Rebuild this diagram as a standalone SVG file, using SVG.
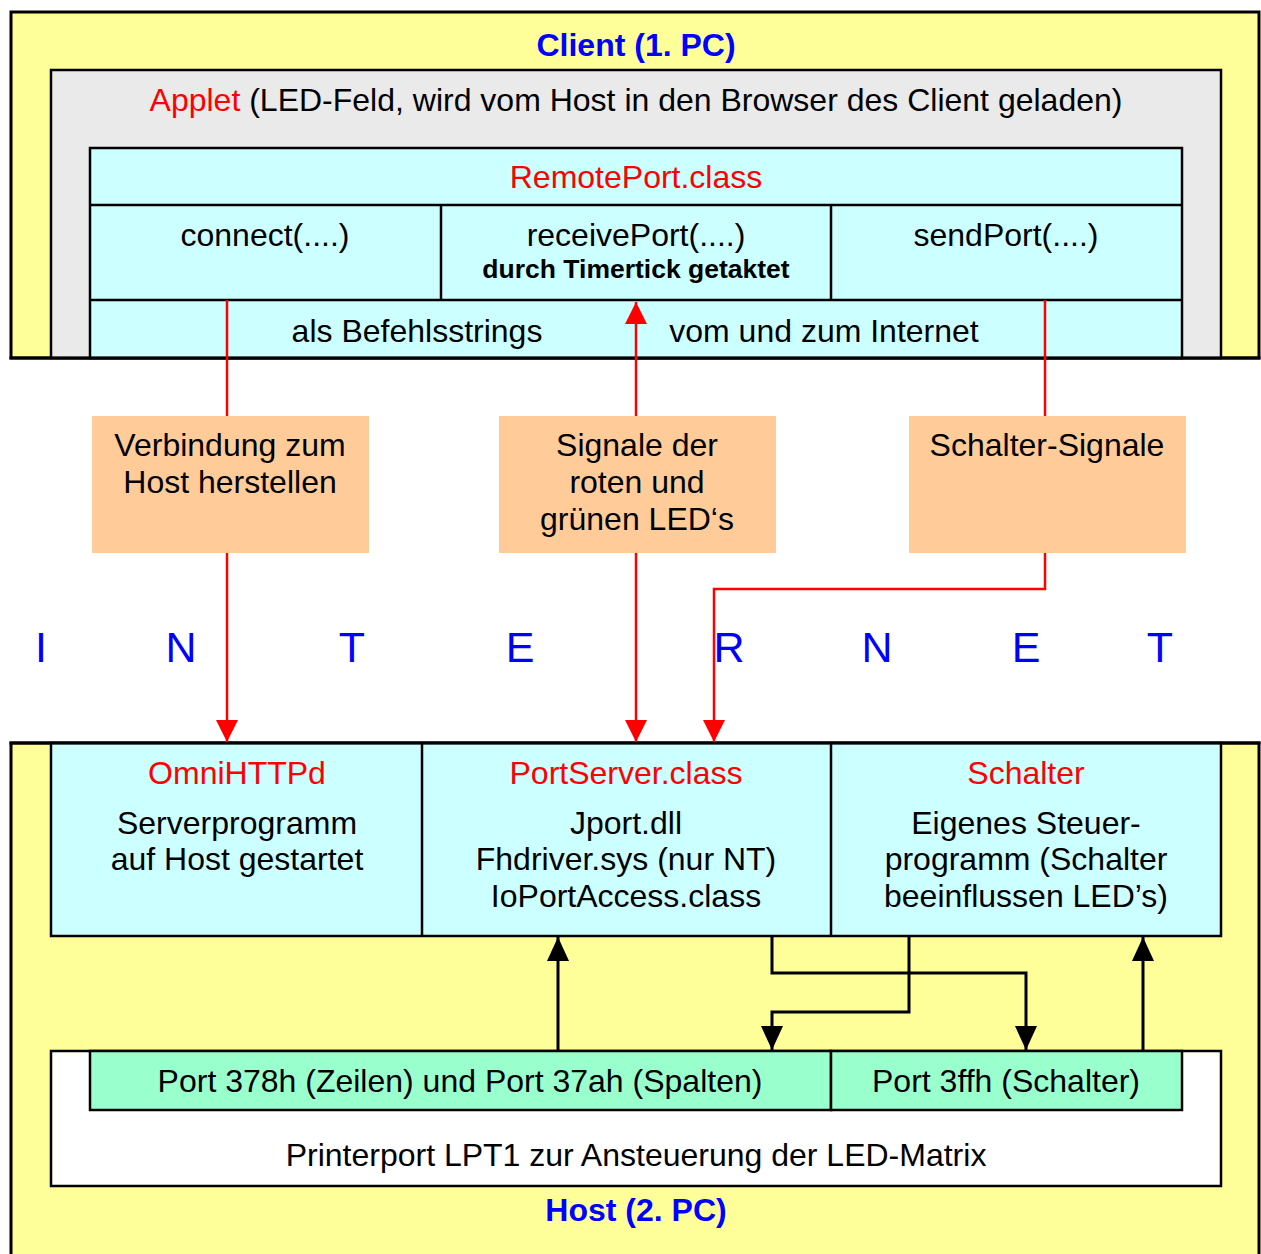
<svg xmlns="http://www.w3.org/2000/svg" width="1261" height="1254" viewBox="0 0 1261 1254">
<style>
text{font-family:"Liberation Sans",Arial,sans-serif;font-size:32px;fill:#000;text-anchor:middle}
.red{fill:#FF0000}
.blue{fill:#0000FF}
.title{font-weight:bold;fill:#0000FF}
.small{font-weight:bold;font-size:26.5px}
.inet{font-size:43px;fill:#0000FF}
.yel{fill:#FFFF99;stroke:#000;stroke-width:3}
.box{stroke:#000;stroke-width:2.5}
.cyan{fill:#CCFFFF}
.gray{fill:#EAEAEA}
.org{fill:#FFCC99}
.grn{fill:#99FFCC}
.wht{fill:#FFFFFF}
.ln{stroke:#000;stroke-width:2.5;fill:none}
.rl{stroke:#FF0000;stroke-width:2.5;fill:none}
.bl{stroke:#000;stroke-width:3;fill:none}
</style>
<defs>
<marker id="ar" markerUnits="userSpaceOnUse" viewBox="0 0 22 22" refX="22" refY="11" markerWidth="22" markerHeight="22" orient="auto"><path d="M0,0 L22,11 L0,22 Z" fill="#FF0000"/></marker>
<marker id="ab" markerUnits="userSpaceOnUse" viewBox="0 0 24 22" refX="24" refY="11" markerWidth="24" markerHeight="22" orient="auto"><path d="M0,0 L24,11 L0,22 Z" fill="#000"/></marker>
</defs>
<rect width="1261" height="1254" fill="#FFFFFF"/>

<g id="client">
<rect class="yel" x="11" y="12" width="1248" height="346"/>
<text class="title" x="636" y="56">Client (1. PC)</text>
</g>
<g id="applet">
<rect class="box gray" x="51" y="70" width="1170" height="288"/>
<text x="636" y="111"><tspan class="red">Applet</tspan> (LED-Feld, wird vom Host in den Browser des Client geladen)</text>
</g>
<g id="remoteport">
<rect class="box cyan" x="90" y="148" width="1092" height="210"/>
<line class="ln" x1="90" y1="205" x2="1182" y2="205"/>
<line class="ln" x1="90" y1="300" x2="1182" y2="300"/>
<line class="ln" x1="441" y1="205" x2="441" y2="300"/>
<line class="ln" x1="831" y1="205" x2="831" y2="300"/>
<text class="red" x="636" y="188">RemotePort.class</text>
<text x="265" y="246">connect(....)</text>
<text x="636" y="246">receivePort(....)</text>
<text class="small" x="636" y="278">durch Timertick getaktet</text>
<text x="1006" y="246">sendPort(....)</text>
<text x="417" y="342">als Befehlsstrings</text>
<text x="824" y="342">vom und zum Internet</text>
</g>
<rect x="9.5" y="356.5" width="1251" height="3" fill="#000"/>

<g id="label-verbindung">
<rect class="org" x="92" y="416" width="277" height="137"/>
<text x="230" y="456">Verbindung zum</text>
<text x="230" y="493">Host herstellen</text>
</g>
<g id="label-signale">
<rect class="org" x="499" y="416" width="277" height="137"/>
<text x="637" y="456">Signale der</text>
<text x="637" y="493">roten und</text>
<text x="637" y="530">grünen LED‘s</text>
</g>
<g id="label-schalter">
<rect class="org" x="909" y="416" width="277" height="137"/>
<text x="1047" y="456">Schalter-Signale</text>
</g>

<g id="internet">
<text class="inet" x="41" y="662">I</text>
<text class="inet" x="181" y="662">N</text>
<text class="inet" x="352" y="662">T</text>
<text class="inet" x="520" y="662">E</text>
<text class="inet" x="729" y="662">R</text>
<text class="inet" x="877" y="662">N</text>
<text class="inet" x="1026" y="662">E</text>
<text class="inet" x="1160" y="662">T</text>
</g>

<g id="host">
<rect class="yel" x="11" y="743" width="1248" height="520"/>
<text class="title" x="636" y="1221">Host (2. PC)</text>
</g>
<g id="host-top">
<rect class="box cyan" x="51" y="743" width="1170" height="193"/>
<line class="ln" x1="422" y1="743" x2="422" y2="936"/>
<line class="ln" x1="831" y1="743" x2="831" y2="936"/>
</g>
<g id="omnihttpd">
<text class="red" x="237" y="784">OmniHTTPd</text>
<text x="237" y="834">Serverprogramm</text>
<text x="237" y="870">auf Host gestartet</text>
</g>
<g id="portserver">
<text class="red" x="626" y="784">PortServer.class</text>
<text x="626" y="834">Jport.dll</text>
<text x="626" y="870">Fhdriver.sys (nur NT)</text>
<text x="626" y="907">IoPortAccess.class</text>
</g>
<g id="schalter">
<text class="red" x="1026" y="784">Schalter</text>
<text x="1026" y="834">Eigenes Steuer-</text>
<text x="1026" y="870">programm (Schalter</text>
<text x="1026" y="907">beeinflussen LED’s)</text>
</g>
<g id="printerport">
<rect class="box wht" x="51" y="1051" width="1170" height="135"/>
<text x="636" y="1166">Printerport LPT1 zur Ansteuerung der LED-Matrix</text>
</g>
<g id="port378">
<rect class="box grn" x="90" y="1051" width="741" height="59"/>
<text x="460" y="1092">Port 378h (Zeilen) und Port 37ah (Spalten)</text>
</g>
<g id="port3ff">
<rect class="box grn" x="831" y="1051" width="351" height="59"/>
<text x="1006" y="1092">Port 3ffh (Schalter)</text>
</g>
<rect x="9.5" y="741.5" width="1251" height="3" fill="#000"/>

<g id="connectors">
<line class="rl" x1="227" y1="300" x2="227" y2="416"/>
<line class="rl" x1="636" y1="416" x2="636" y2="302" marker-end="url(#ar)"/>
<line class="rl" x1="1045" y1="300" x2="1045" y2="416"/>
<line class="rl" x1="227" y1="553" x2="227" y2="742" marker-end="url(#ar)"/>
<line class="rl" x1="636" y1="553" x2="636" y2="742" marker-end="url(#ar)"/>
<polyline class="rl" points="1045,553 1045,589 714,589 714,742" marker-end="url(#ar)"/>
<line class="bl" x1="558" y1="1050" x2="558" y2="937" marker-end="url(#ab)"/>
<polyline class="bl" points="772,936 772,973 1026,973 1026,1050" marker-end="url(#ab)"/>
<polyline class="bl" points="909,936 909,1012 772,1012 772,1050" marker-end="url(#ab)"/>
<line class="bl" x1="1143" y1="1050" x2="1143" y2="937" marker-end="url(#ab)"/>
</g>
</svg>
